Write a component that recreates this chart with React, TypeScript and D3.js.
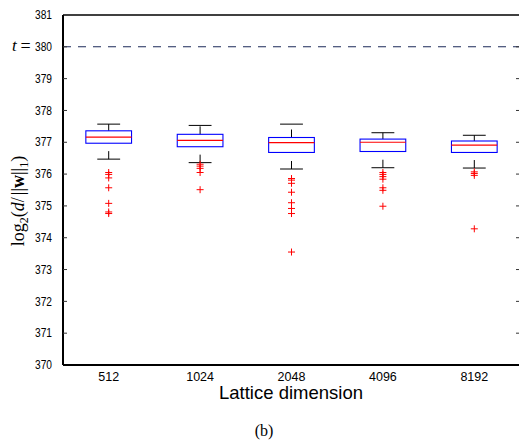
import React from 'react';
import * as d3 from 'd3';

// box plot summary per lattice dimension
const categories = ['512', '1024', '2048', '4096', '8192'];
const whiskerHigh = [377.57, 377.53, 377.57, 377.3, 377.22];
const q3 = [377.36, 377.25, 377.15, 377.1, 377.04];
const medians = [377.16, 377.06, 376.99, 377.0, 376.91];
const q1 = [376.97, 376.86, 376.68, 376.71, 376.68];
const whiskerLow = [376.47, 376.36, 376.16, 376.2, 376.19];
const outliers = [
  [376.05, 375.99, 375.88, 375.57, 375.08, 374.81, 374.76],
  [376.31, 376.25, 376.18, 376.05, 375.51],
  [375.86, 375.81, 375.71, 375.43, 375.1, 374.92, 374.76, 373.55],
  [376.05, 375.99, 375.92, 375.84, 375.57, 375.49, 374.99],
  [376.07, 376.02, 375.96, 374.28],
];
const yTicks = [370, 371, 372, 373, 374, 375, 376, 377, 378, 379, 380, 381];
const threshold = 380;

const W = 519;
const H = 441;
const left = 63;
const right = 520;
const top = 15;
const bottom = 365;

const App = () => {
  // matlab boxplot puts groups at 1..n with xlim [0.5, n+0.5]
  const x = d3.scaleLinear().domain([0.5, categories.length + 0.5]).range([left, right]);
  const y = d3.scaleLinear().domain([370, 381]).range([bottom, top]);
  const boxW = x(1.25) - x(1);
  const capW = x(1.125) - x(1);
  const sans = 'Liberation Sans, Arial, sans-serif';
  const serif = 'Liberation Serif, Times New Roman, serif';

  return (
    <svg width={W} height={H} style={{ position: 'absolute', left: 0, top: 0 }}>
      <rect x={0} y={0} width={W} height={H} fill="#fff" />

      {/* threshold line */}
      <line x1={left} x2={right} y1={y(threshold)} y2={y(threshold)} stroke="#1c2a5a" strokeWidth={1.1} strokeDasharray="8,7" />
      <text x={12} y={y(threshold) + 4} fontFamily={serif} fontStyle="italic" fontSize={17}>t</text>
      <text x={20.5} y={y(threshold) + 5} fontFamily={serif} fontSize={18}>=</text>

      {/* boxes */}
      {categories.map((c, i) => {
        const cx = x(i + 1);
        return (
          <g key={c}>
            <line x1={cx} x2={cx} y1={y(q3[i])} y2={y(whiskerHigh[i])} stroke="#000" strokeDasharray="8,9" />
            <line x1={cx} x2={cx} y1={y(whiskerLow[i])} y2={y(q1[i])} stroke="#000" strokeDasharray="8,9" />
            <line x1={cx - capW} x2={cx + capW} y1={y(whiskerHigh[i])} y2={y(whiskerHigh[i])} stroke="#000" />
            <line x1={cx - capW} x2={cx + capW} y1={y(whiskerLow[i])} y2={y(whiskerLow[i])} stroke="#000" />
            <rect x={cx - boxW} y={y(q3[i])} width={boxW * 2} height={y(q1[i]) - y(q3[i])} fill="none" stroke="#0000ff" strokeWidth={1.1} />
            <line x1={cx - boxW} x2={cx + boxW} y1={y(medians[i])} y2={y(medians[i])} stroke="#ff0000" strokeWidth={1.2} />
            {outliers[i].map((v, j) => (
              <path key={j} d={`M${cx - 3.5},${y(v)}H${cx + 3.5}M${cx},${y(v) - 3.5}V${y(v) + 3.5}`} stroke="#ff0000" strokeWidth={1} fill="none" />
            ))}
          </g>
        );
      })}

      {/* frame */}
      <line x1={left} x2={right} y1={top} y2={top} stroke="#000" strokeWidth={1.3} />
      <line x1={left} x2={right} y1={bottom} y2={bottom} stroke="#000" strokeWidth={2} />
      <line x1={left} x2={left} y1={top} y2={bottom} stroke="#000" strokeWidth={2} />
      <line x1={right} x2={right} y1={top} y2={bottom} stroke="#000" strokeWidth={1.3} />

      {/* y ticks */}
      {yTicks.map((t) => (
        <g key={t}>
          {t !== 370 && t !== 381 && (
            <>
              <line x1={left} x2={left + 4} y1={y(t)} y2={y(t)} stroke="#333" />
              <line x1={right - 4} x2={right} y1={y(t)} y2={y(t)} stroke="#333" />
            </>
          )}
          <text x={52} y={y(t) + 4.2} textAnchor="end" fontFamily={sans} fontSize={12} textLength={17} lengthAdjust="spacingAndGlyphs">{t}</text>
        </g>
      ))}

      {/* x tick labels */}
      {categories.map((c, i) => (
        <text key={c} x={x(i + 1)} y={380.5} textAnchor="middle" fontFamily={sans} fontSize={12.5}>{c}</text>
      ))}

      <text x={291} y={399} textAnchor="middle" fontFamily={sans} fontSize={18.5}>Lattice dimension</text>

      {/* y label: log2(d/||w||1) */}
      <text transform="translate(24,201) rotate(-90)" textAnchor="middle" fontFamily={serif} fontSize={18}>
        <tspan>log</tspan>
        <tspan fontSize={12} dy={4}>2</tspan>
        <tspan dy={-4}>(</tspan>
        <tspan fontStyle="italic">d</tspan>
        <tspan>/</tspan>
        <tspan dx={2}>||</tspan>
        <tspan fontWeight="bold">w</tspan>
        <tspan>||</tspan>
        <tspan fontSize={12} dy={4}>1</tspan>
        <tspan dy={-4}>)</tspan>
      </text>

      <text x={264} y={436} textAnchor="middle" fontFamily={serif} fontSize={16}>(b)</text>
    </svg>
  );
};

export default App;
